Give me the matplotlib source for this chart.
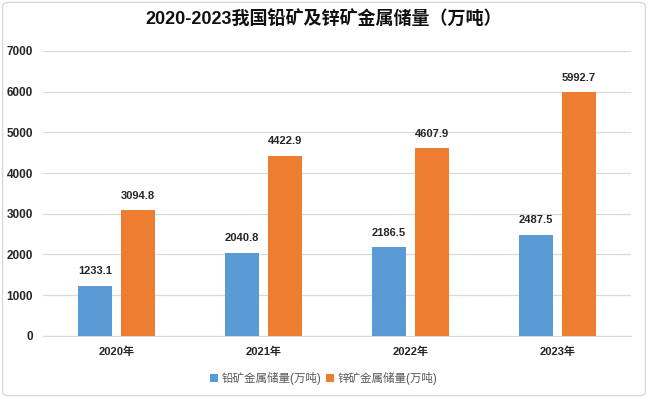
import matplotlib
matplotlib.use("Agg")
import matplotlib.pyplot as plt
from matplotlib.patches import FancyBboxPatch
import numpy as np

plt.rcParams['font.family'] = ['Liberation Sans', 'Noto Sans CJK SC', 'DejaVu Sans']

years = ["2020年", "2021年", "2022年", "2023年"]
lead = [1233.1, 2040.8, 2186.5, 2487.5]
zinc = [3094.8, 4422.9, 4607.9, 5992.7]
series_names = ["铅矿金属储量(万吨)", "锌矿金属储量(万吨)"]
title = "2020-2023我国铅矿及锌矿金属储量（万吨）"

blue = "#5B9BD5"
orange = "#ED7D31"

fig = plt.figure(figsize=(6.48, 3.98), dpi=100)
ax = fig.add_axes([0.066, 0.156, 0.908, 0.716])

x = np.arange(len(years))
w = 0.23
gap = 0.06
b1 = ax.bar(x - (w + gap) / 2, lead, w, color=blue, label=series_names[0], zorder=3)
b2 = ax.bar(x + (w + gap) / 2, zinc, w, color=orange, label=series_names[1], zorder=3)

for bars, vals in ((b1, lead), (b2, zinc)):
    for r, v in zip(bars, vals):
        ax.text(r.get_x() + r.get_width() / 2, v + 230, f"{v:.1f}",
                ha="center", va="bottom", fontsize=8, fontweight="bold", color="#262626")

ax.set_xlim(-0.5, len(years) - 0.5)
ax.set_ylim(0, 7000)
ax.set_yticks(range(0, 7001, 1000))
ax.set_xticks(x)
ax.set_xticklabels(years, fontweight="bold", fontsize=8)
for t in ax.get_yticklabels():
    t.set_fontweight("bold")
    t.set_fontsize(8.5)
ax.tick_params(length=0, colors="#262626")
ax.tick_params(axis="x", pad=8)
ax.tick_params(axis="y", pad=7)
ax.grid(axis="y", color="#D9D9D9", linewidth=0.9, zorder=0)
for s in ("top", "right", "left"):
    ax.spines[s].set_visible(False)
ax.spines["bottom"].set_color("#D9D9D9")

fig.text(0.5, 0.953, title, ha="center", va="center", fontsize=13, fontweight="bold", color="#111111")

fig.legend(handles=[b1, b2], loc="center", bbox_to_anchor=(0.5, 0.048), ncol=2,
           frameon=False, fontsize=8.3, handlelength=0.7, handleheight=0.7,
           columnspacing=0.4, handletextpad=0.3, labelcolor="#595959")

fig.patches.append(FancyBboxPatch((0.004, 0.006), 0.992, 0.988, boxstyle="round,pad=0,rounding_size=0.01",
                                  transform=fig.transFigure, fill=False, edgecolor="#D9D9D9", linewidth=1))

fig.savefig("out.png", dpi=100)
